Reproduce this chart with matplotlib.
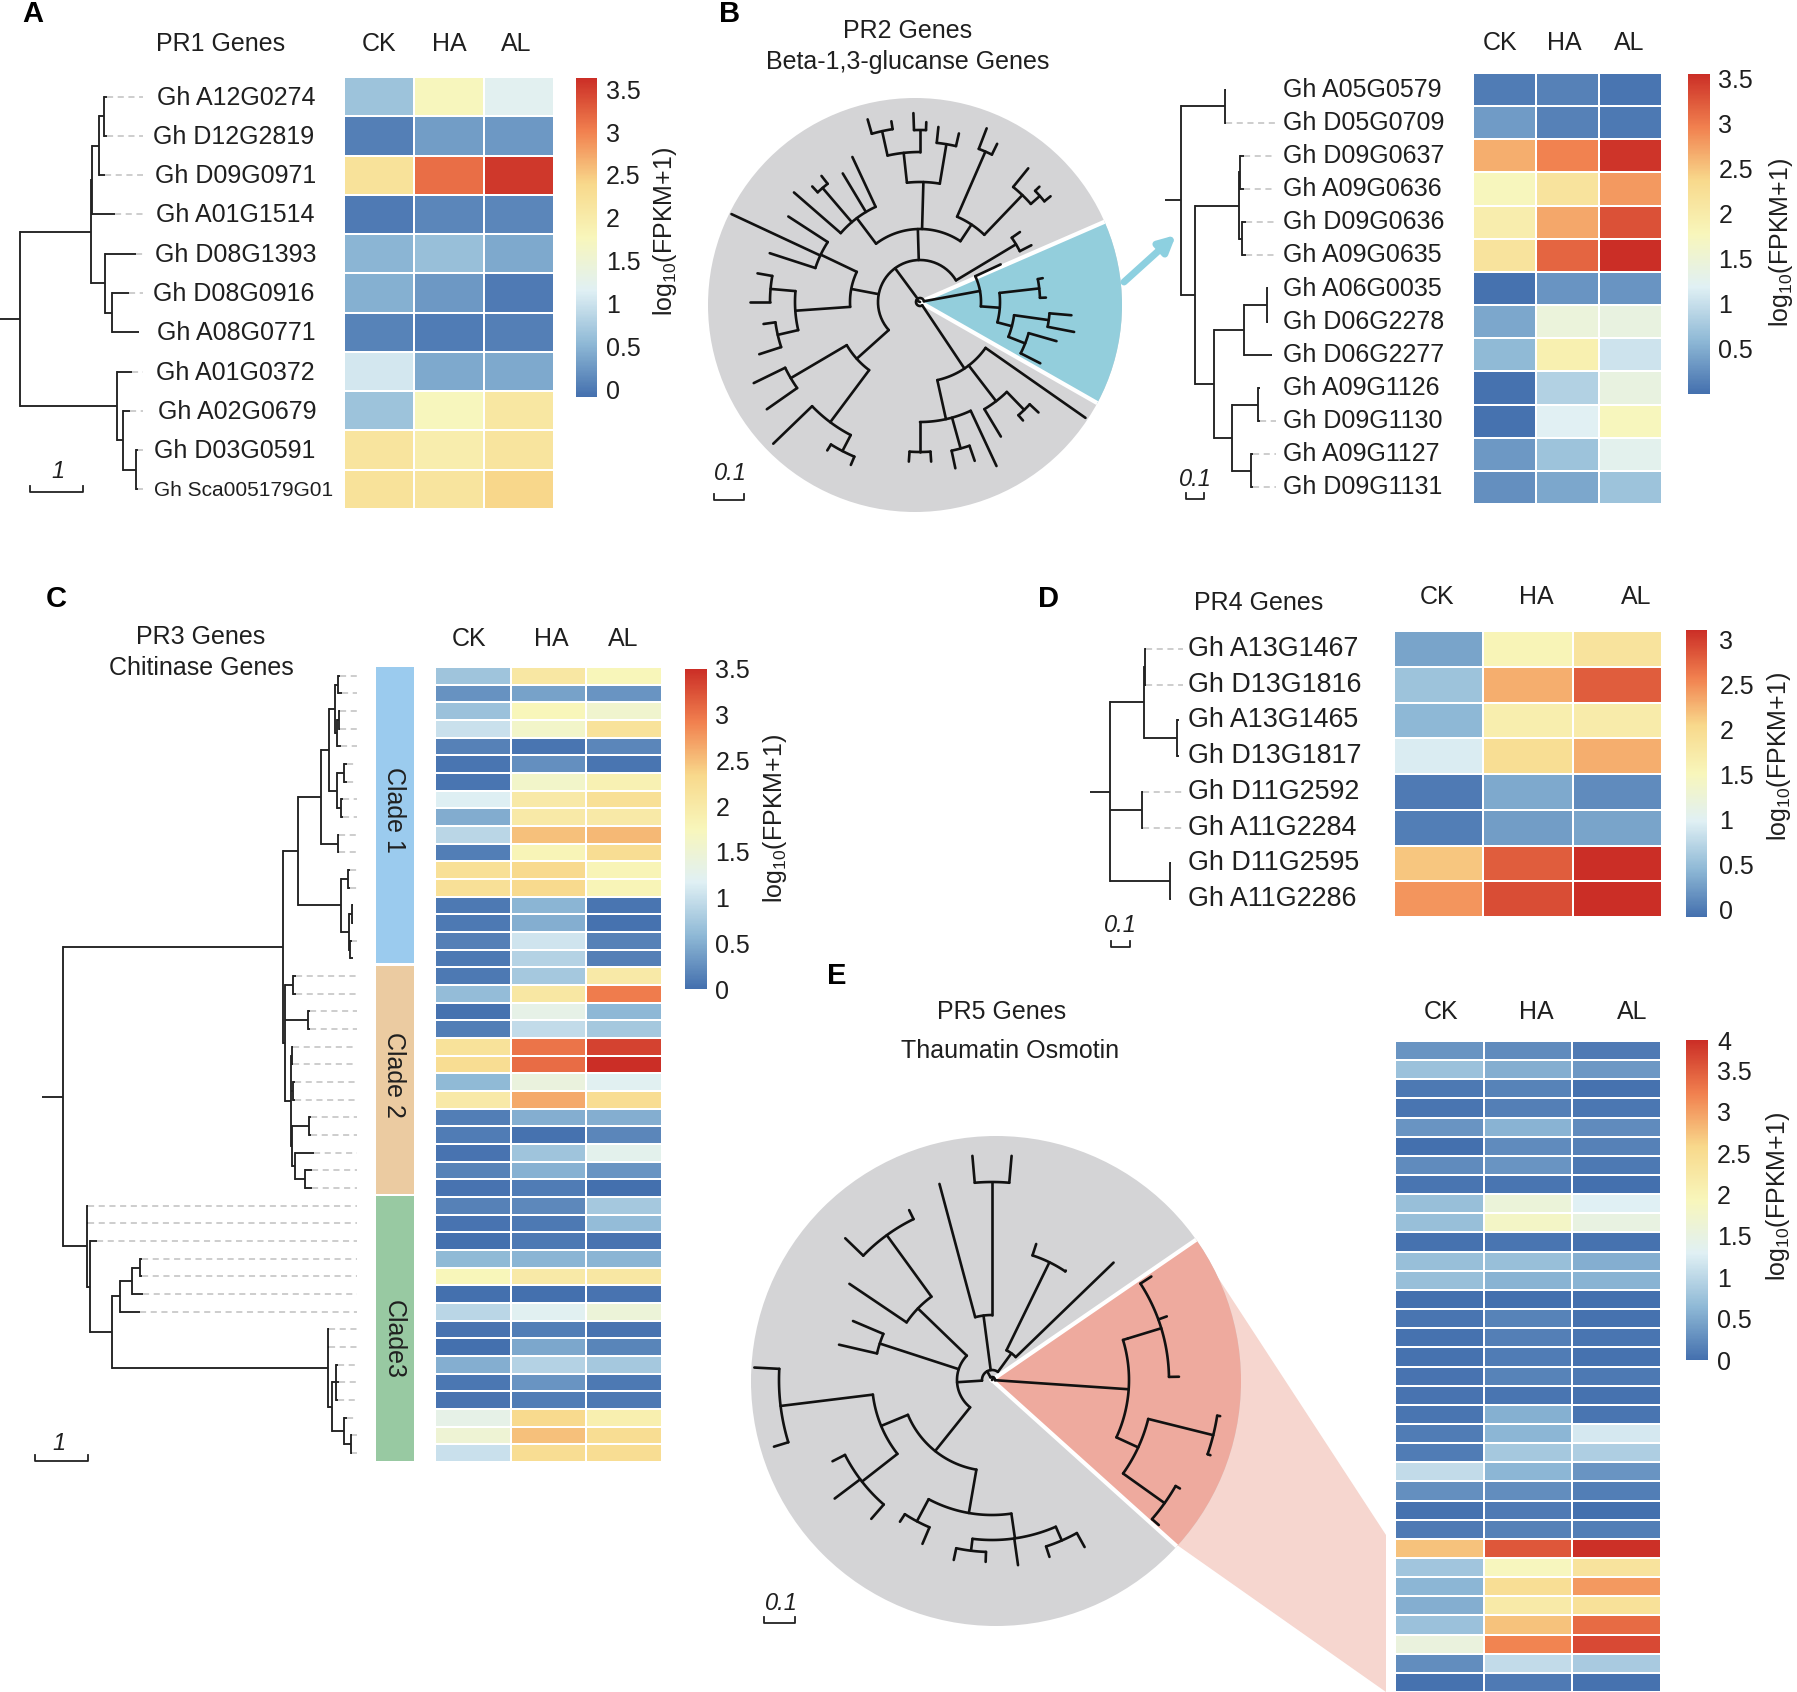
import numpy as np
import matplotlib
matplotlib.use("Agg")
import matplotlib.pyplot as plt
from matplotlib.colors import LinearSegmentedColormap, Normalize
from matplotlib.colorbar import Colorbar
from matplotlib.patches import Circle, Polygon, Rectangle

plt.rcParams["font.family"] = ["Liberation Sans", "DejaVu Sans"]
plt.rcParams["mathtext.default"] = "regular"

W, H = 1797, 1692
COLS = ["CK", "HA", "AL"]
CB_LABEL = "log$_{10}$(FPKM+1)"

# -----------------------
# Heatmap data
# -----------------------
A_GENES = ["Gh A12G0274", "Gh D12G2819", "Gh D09G0971", "Gh A01G1514", "Gh D08G1393", "Gh D08G0916",
           "Gh A08G0771", "Gh A01G0372", "Gh A02G0679", "Gh D03G0591", "Gh Sca005179G01"]
A_VALUES = [[0.65, 1.75, 1.2], [0.05, 0.3, 0.25], [2.2, 3.15, 3.55], [0.0, 0.1, 0.1], [0.5, 0.6, 0.4],
            [0.45, 0.25, 0.0], [0.08, 0.02, 0.05], [1.05, 0.4, 0.4], [0.65, 1.75, 2.1],
            [2.15, 1.95, 2.15], [2.2, 2.15, 2.4]]

B_GENES = ["Gh A05G0579", "Gh D05G0709", "Gh D09G0637", "Gh A09G0636", "Gh D09G0636", "Gh A09G0635",
           "Gh A06G0035", "Gh D06G2278", "Gh D06G2277", "Gh A09G1126", "Gh D09G1130", "Gh A09G1127",
           "Gh D09G1131"]
B_VALUES = [[0.1, 0.15, 0.05], [0.35, 0.15, 0.08], [2.65, 2.95, 3.5], [1.75, 2.15, 2.8], [1.95, 2.7, 3.3],
            [2.15, 3.15, 3.55], [0.02, 0.3, 0.3], [0.45, 1.45, 1.4], [0.6, 1.9, 1.05], [0.02, 0.85, 1.4],
            [0.02, 1.2, 1.75], [0.33, 0.7, 1.25], [0.25, 0.45, 0.7]]

C_VALUES = [[.7, 2.05, 1.75], [.28, .4, .3], [.68, 1.75, 1.55], [1.0, 1.6, 2.15], [.15, .05, .18],
            [.05, .25, .05], [.05, 1.6, 1.85], [1.15, 2.0, 2.2], [.48, 2.0, 2.0], [.9, 2.5, 2.55],
            [.12, 1.8, 2.25], [2.2, 2.3, 1.8], [2.2, 2.3, 1.8], [.08, .55, .05], [.08, .5, .02],
            [.13, 1.05, .15], [.07, .85, .13], [.08, .75, 2.0], [.62, 2.05, 2.95], [.02, 1.3, .58],
            [.12, .95, .75], [2.15, 3.0, 3.35], [2.25, 3.05, 3.5], [.6, 1.4, 1.2], [2.0, 2.65, 2.25],
            [.12, .5, .5], [.1, .02, .18], [.03, .7, 1.25], [.16, .52, .3], [.03, .1, .0],
            [.14, .2, .75], [.03, .08, .62], [.01, .08, .04], [.6, .55, .55], [1.75, 2.0, 2.05],
            [.0, .0, .03], [.9, 1.2, 1.45], [.03, .12, .03], [.0, .45, .17], [.5, .85, .75],
            [.06, .3, .08], [.03, .1, .08], [1.3, 2.3, 1.9], [1.5, 2.5, 2.25], [1.0, 2.25, 2.25]]

D_GENES = ["Gh A13G1467", "Gh D13G1816", "Gh A13G1465", "Gh D13G1817", "Gh D11G2592", "Gh A11G2284",
           "Gh D11G2595", "Gh A11G2286"]
D_VALUES = [[0.3, 1.55, 1.85], [0.55, 2.3, 2.8], [0.45, 1.65, 1.7], [0.95, 1.95, 2.3], [0.0, 0.33, 0.12],
            [0.02, 0.25, 0.3], [2.15, 2.8, 3.1], [2.45, 2.9, 3.1]]

E_VALUES = [[.32, .25, .1], [.75, .55, .35], [.08, .17, .03], [.05, .15, .07], [.32, .6, .25], [0, .25, .16],
            [.25, .33, .08], [.05, .05, .0], [.72, 1.6, 1.3], [.72, 1.8, 1.5], [.02, .05, .02],
            [.72, .72, .55], [.72, .6, .6], [.01, 0, .0], [.05, .17, .02], [.03, .15, .05],
            [.03, .12, .02], [.04, .17, .08], [.04, .05, .03], [.05, .57, .05], [.12, .62, 1.2],
            [.12, .82, .9], [1.05, .62, .32], [.28, .27, .13], [.02, .1, .0], [.1, .16, .13],
            [2.75, 3.55, 3.85], [.8, 1.9, 2.35], [.62, 2.45, 3.05], [.55, 2.2, 2.4], [.75, 2.75, 3.4],
            [1.55, 3.2, 3.65], [.27, 1.05, .85], [.02, .1, .03]]

# -----------------------
# Trees: (branch position, [children]), a plain number is a leaf tip
# -----------------------
A_TREE = (45, [(203, [(205, [(222, [(232, [240, 240]), 235]), 258]), (235, [305, (252, [288, 312])])]),
               (262, [295, (275, [292, (305, [310, 310])])])])
B_TREE = (688, [(750, [752, 752]),
                (708, [(770, [(772, [778, 778]), (775, [780, 780])]),
                       (735, [(778, [(810, [812, 812]), 818]),
                              (760, [(798, [800, 800]), (787, [790, 790])])])])])
CLADE_1 = (585, [(630, [(645, [(657, [(662, [666, 670]), (660, [(664, [666, 666]), 668])]),
                               (660, [(675, [680, 680]), (668, [672, 672])])]),
                        (662, [665, 665])]),
                 (668, [(682, [686, 686]), (684, [(690, [692, 692]), (686, [690, 692])])])])
CLADE_2 = (558, [(575, [580, 580]), (603, [607, 607]),
                 (570, [(572, [575, 575]), (575, [578, 578]),
                        (572, [(605, [610, 610]), (578, [615, (598, [612, 612])])])])])
CLADE_3 = (170, [172, 172, (176, [190, (220, [(235, [(258, [(275, [278, 278]), 280]), 275]),
                                              (642, [645, 645, (650, [(658, [662, 665, 662]),
                                                                      (675, [680, (688, [690, 690])])])])])])])
C_TREE = (123, [(555, [CLADE_1, CLADE_2]), CLADE_3])
D_TREE = (125, [(197, [(200, [202, 202]), (267, [270, 270])]), (193, [195, 195]), (252, [255, 255])])

# rows of each tree whose tip runs straight into the label
B_NO_LEADER = [0, 6, 7, 8, 9]
D_NO_LEADER = [2, 3, 6, 7]

# radial trees: (radius, [children]), a leaf is (radius, angle)
B_TEAL = (61, [(89, 25), (80, [(120, [(125, 11), (126, 2)]),
                               (95, [(130, [(152, -5), (157, -11)]), (113, [(142, -16), (135, -27)])])])])
B_UPPER = (42, [(112, [(125, 27), (122, 35)]),
                (73, [(93, [(148, [(160, [(168, 39), (166, 44)]), (172, 51)]),
                            (164, [(176, 64), (186, 69)])]),
                      (120, [(160, [(173, 77), (176, 84)]),
                             (150, [(172, [(180, 88), (189, 92)]), (175, [(183, 99), (190, 106)])])]),
                      (105, [(160, 115), (150, 121), (150, [(160, 128), (158, 133)]), (167, 139)])]),
                (70, [(110, [(157, 147), (208, 155), (158, 162)]),
                      (125, [(150, [(165, 170), (170, 180)]), (146, [(158, 188), (169, 198)])])]),
                (85, [(150, [(185, 206), (187, 215)]),
                      (150, [(204, 224), (168, [(175, 238), (177, 247)])])])])
B_BOTTOM = (80, [(120, [(150, [(160, 266), (160, 274)]), (152, [(170, 282), (168, 289)]), (181, 295)]),
                 (125, [(157, 301), (150, [(157, 311), (162, 317)])]), (202, 325)])
B_RADIAL = (4, [B_TEAL, B_UPPER, B_BOTTOM])

E_SALMON = (137, [(142, [(177, [(187, 1), (186, 20), (190, 33)])]),
                  (161, [(228, [(231, -19), (231, -9)]), (212, [(221, -41), (217, -30)])])])
E_LOWER = (91, [(120, [(213, [(238, 177), (228, 197)]),
                       (165, [(179, 207), (197, 217), (184, 229)])]),
                (135, [(160, [(169, 237), (178, 247)]),
                       (160, [(172, [(184, 258), (182, 268)]), (187, 278), (175, [(186, 288), (191, 299)])])])])
E_GRAY = (10, [(33, [(169, 44), (131, [(132, 56), (143, 72)])]),
               (65, [(198, [(225, 85), (225, 95)]), (203, 105)]),
               (35, [(103, [(179, [(189, 116), (204, 136)]), (172, 146)]),
                     (118, [(151, 157), (157, 167)]),
                     E_LOWER])])
E_RADIAL = (3, [E_SALMON, E_GRAY])

# -----------------------
# Colours
# -----------------------
cmap = LinearSegmentedColormap.from_list(
    "fpkm", ["#4470ae", "#8fb9d6", "#e0f0f4", "#f8f6bb", "#f8d98c", "#f1814f", "#cb2e26"])
GRAY = "#d4d4d6"
TEAL = "#93cedc"
SALMON = "#eeaa9e"
PINK = "#f6d6cf"

fig = plt.figure(figsize=(W / 100, H / 100), dpi=100)
ov = fig.add_axes([0, 0, 1, 1])
ov.set_xlim(0, W)
ov.set_ylim(H, 0)
ov.axis("off")


def put(x, y, s, size=18, **kw):
    kw.setdefault("ha", "center")
    kw.setdefault("va", "center")
    kw.setdefault("color", "#1f1f1f")
    ov.text(x, y, s, fontsize=size, **kw)


# -----------------------
# Helpers
# -----------------------
def heatmap(box, values, vmin, vmax):
    x0, y0, x1, y1 = box
    ax = fig.add_axes([x0 / W, 1 - y1 / H, (x1 - x0) / W, (y1 - y0) / H])
    ax.pcolormesh(np.array(values), cmap=cmap, norm=Normalize(vmin, vmax), edgecolors="white", linewidth=1.3)
    ax.set_ylim(len(values), 0)
    ax.axis("off")


def colorbar(box, vmin, vmax, ticks, labels, pad, label_xy):
    x0, y0, x1, y1 = box
    cax = fig.add_axes([x0 / W, 1 - y1 / H, (x1 - x0) / W, (y1 - y0) / H])
    cb = Colorbar(cax, cmap=cmap, norm=Normalize(vmin, vmax), ticks=ticks)
    cb.outline.set_visible(False)
    cb.ax.set_yticklabels(labels)
    cb.ax.tick_params(length=0, pad=pad, labelsize=18, labelcolor="#1f1f1f")
    put(label_xy[0], label_xy[1], CB_LABEL, rotation=90)


def draw_tree(tree, x0, sx, y0, row_h, stub, leader_end, no_leader=(), lw=1.35):
    rows = [0]

    def walk(node, parent_x):
        if not isinstance(node, tuple):
            x = x0 + sx * node
            y = y0 + row_h * (rows[0] + 0.5)
            ov.plot([parent_x, x], [y, y], color="#222222", lw=lw, solid_capstyle="butt")
            if leader_end > x + 4 and rows[0] not in no_leader:
                ov.plot([x, leader_end], [y, y], color="#c0c0c0", lw=1.1, dashes=(4, 3))
            rows[0] += 1
            return y
        x = x0 + sx * node[0]
        ys = [walk(c, x) for c in node[1]]
        y = (ys[0] + ys[-1]) / 2
        ov.plot([x, x], [ys[0], ys[-1]], color="#222222", lw=lw, solid_capstyle="projecting")
        ov.plot([parent_x, x], [y, y], color="#222222", lw=lw, solid_capstyle="butt")
        return y

    walk(tree, stub)


def draw_radial(tree, cx, cy, lw=1.9):
    def point(r, a):
        t = np.radians(a)
        return cx + r * np.cos(t), cy - r * np.sin(t)

    def walk(node, parent_r):
        if not isinstance(node[1], list):
            r, a = node
        else:
            r = node[0]
            angles = [walk(c, r) for c in node[1]]
            a = (angles[0] + angles[-1]) / 2
            arc = np.linspace(angles[0], angles[-1], 40)
            px, py = point(r, arc)
            ov.plot(px, py, color="#111111", lw=lw, solid_capstyle="round")
        p0 = point(parent_r, a)
        p1 = point(r, a)
        ov.plot([p0[0], p1[0]], [p0[1], p1[1]], color="#111111", lw=lw, solid_capstyle="round")
        return a

    walk(tree, 0)


def disc(cx, cy, r, ax_, ay_, a0, a1, color):
    circle = Circle((cx, cy), r, fc=GRAY, ec="none")
    ov.add_patch(circle)
    angles = np.radians(np.linspace(a0, a1, 60))
    pts = [(ax_, ay_)] + [(ax_ + 400 * np.cos(t), ay_ - 400 * np.sin(t)) for t in angles]
    wedge = Polygon(pts, fc=color, ec="none")
    ov.add_patch(wedge)
    wedge.set_clip_path(circle)
    for a in (a0, a1):
        t = np.radians(a)
        edge, = ov.plot([ax_, ax_ + 400 * np.cos(t)], [ay_, ay_ - 400 * np.sin(t)], color="white", lw=3)
        edge.set_clip_path(circle)


def scale_bar(x0, x1, y, text, tx, ty):
    ov.plot([x0, x0, x1, x1], [y - 6, y, y, y - 6], color="#222222", lw=1.3)
    put(tx, ty, text, size=17, style="italic")


def gene_labels(genes, xs, y0, row_h, size=18):
    for i, g in enumerate(genes):
        s = 15 if "Sca" in g else size
        put(xs[i], y0 + row_h * (i + 0.5), g, size=s, ha="left")


# -----------------------
# Panel A
# -----------------------
put(33, 14, "A", size=21, weight="bold", color="black")
put(221, 44, "PR1 Genes")
for x, c in zip([379, 449, 516], COLS):
    put(x, 44, c)
heatmap((344, 77, 554, 509), A_VALUES, -0.09, 3.63)
colorbar((576, 78, 597, 397), -0.09, 3.63, [0, .5, 1, 1.5, 2, 2.5, 3, 3.5],
         ["0", "0.5", "1", "1.5", "2", "2.5", "3", "3.5"], 6.5, (665, 232))
gene_labels(A_GENES, [157, 153, 155, 156, 155, 153, 157, 156, 158, 154, 154], 78, 432 / 11)
draw_tree(A_TREE, 0, 1 / 2.24, 77, 432 / 11, 0, 143)
scale_bar(30, 83, 492, "1", 58, 472)

# -----------------------
# Panel B
# -----------------------
put(730, 14, "B", size=21, weight="bold", color="black")
put(908, 31, "PR2 Genes")
put(908, 62, "Beta-1,3-glucanse Genes")
disc(915, 305, 207, 920, 302, -29.7, 23.5, TEAL)
draw_radial(B_RADIAL, 920, 302)
ov.annotate("", xy=(1176, 235), xytext=(1124, 282),
            arrowprops=dict(arrowstyle="-|>", color="#8dd0e0", lw=5, mutation_scale=24, shrinkA=0, shrinkB=0))
scale_bar(714, 744, 500, "0.1", 730, 473)
for x, c in zip([1500, 1564, 1629], COLS):
    put(x, 43, c)
heatmap((1473, 73, 1662, 504), B_VALUES, 0, 3.55)
colorbar((1688, 74, 1710, 394), 0, 3.55, [.5, 1, 1.5, 2, 2.5, 3, 3.5],
         ["0.5", "1", "1.5", "2", "2.5", "3", "3.5"], 6, (1781, 243))
gene_labels(B_GENES, [1283] * 13, 73, 431 / 13)
draw_tree(B_TREE, 700, 0.6996, 73, 431 / 13, 1165, 1276, no_leader=B_NO_LEADER)
scale_bar(1186, 1204, 499, "0.1", 1195, 480)

# -----------------------
# Panel C
# -----------------------
put(56, 599, "C", size=21, weight="bold", color="black")
put(201, 637, "PR3 Genes")
put(201, 668, "Chitinase Genes")
for x, c in zip([469, 551, 623], COLS):
    put(x, 639, c)
heatmap((435, 667, 662, 1462), C_VALUES, 0, 3.5)
colorbar((685, 669, 707, 989), 0, 3.5, [0, .5, 1, 1.5, 2, 2.5, 3, 3.5],
         ["0", "0.5", "1", "1.5", "2", "2.5", "3", "3.5"], 6, (775, 819))
for y0, y1, col, name in [(667, 963, "#9bcbee", "Clade 1"), (966, 1194, "#ebcba1", "Clade 2"),
                          (1196, 1461, "#98c9a2", "Clade3")]:
    ov.add_patch(Rectangle((376, y0), 38, y1 - y0, fc=col, ec="none"))
put(394, 810, "Clade 1", rotation=-90)
put(394, 1075, "Clade 2", rotation=-90)
put(394, 1339, "Clade3", rotation=-90)
draw_tree(C_TREE, 0, 0.5102, 667, 795 / 45, 42, 357)
scale_bar(35, 88, 1461, "1", 59, 1444)

# -----------------------
# Panel D
# -----------------------
put(1049, 599, "D", size=21, weight="bold", color="black")
put(1259, 603, "PR4 Genes")
for x, c in zip([1437, 1536, 1636], COLS):
    put(x, 597, c)
heatmap((1394, 631, 1662, 917), D_VALUES, -0.08, 3.1)
colorbar((1686, 630, 1707, 917), -0.08, 3.1, [0, .5, 1, 1.5, 2, 2.5, 3],
         ["0", "0.5", "1", "1.5", "2", "2.5", "3"], 9, (1779, 757))
gene_labels(D_GENES, [1188] * 8, 631, 286 / 8, size=19.4)
draw_tree(D_TREE, 1050, 0.4764, 631, 286 / 8, 1090, 1183, no_leader=D_NO_LEADER)
scale_bar(1111, 1130, 947, "0.1", 1120, 926)

# -----------------------
# Panel E
# -----------------------
put(837, 976, "E", size=21, weight="bold", color="black")
put(1002, 1012, "PR5 Genes")
put(1010, 1051, "Thaumatin Osmotin")
ov.add_patch(Polygon([(1200, 1250), (1386, 1535), (1386, 1692), (1170, 1540)], fc=PINK, ec="none"))
disc(996, 1381, 245, 992, 1380, -42, 34.5, SALMON)
draw_radial(E_RADIAL, 992, 1380)
scale_bar(764, 795, 1623, "0.1", 781, 1603)
for x, c in zip([1441, 1536, 1632], COLS):
    put(x, 1012, c)
heatmap((1395, 1041, 1661, 1692), E_VALUES, 0, 3.87)
colorbar((1686, 1040, 1708, 1360), 0, 3.87, [0, .5, 1, 1.5, 2, 2.5, 3, 3.5, 3.87],
         ["0", "0.5", "1", "1.5", "2", "2.5", "3", "3.5", "4"], 6.5, (1778, 1197))

fig.savefig("out.png", dpi=100)
